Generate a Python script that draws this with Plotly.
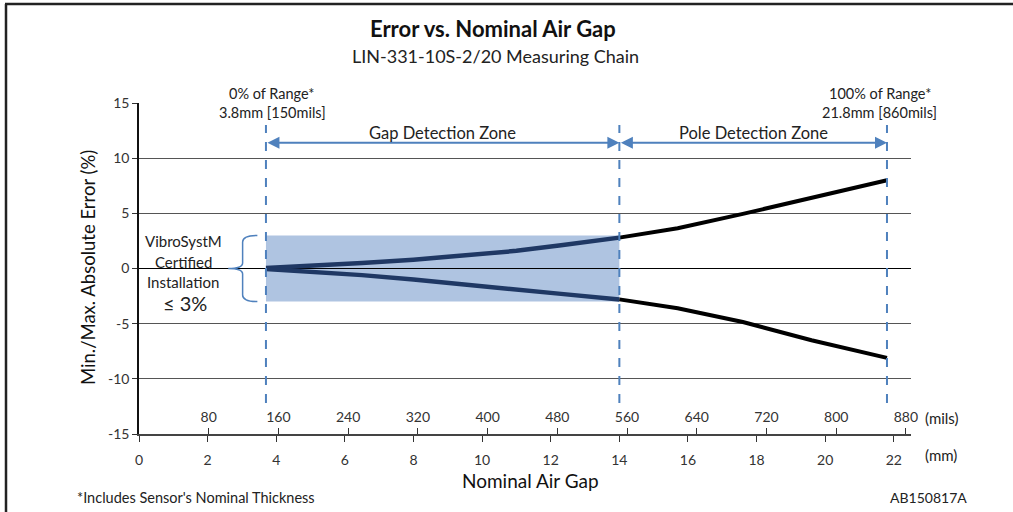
import plotly.graph_objects as go

# ---- data ----
gap_x = [3.7, 4.8, 6.5, 8.0, 9.4, 11.0, 12.3, 14.0]
gap_upper = [0.05, 0.2, 0.5, 0.8, 1.15, 1.6, 2.1, 2.8]
gap_lower = [-0.05, -0.25, -0.6, -1.0, -1.45, -1.9, -2.3, -2.8]

pole_x = [14.0, 15.7, 17.6, 19.6, 21.8]
pole_upper = [2.8, 3.65, 4.95, 6.4, 8.0]
pole_lower = [-2.8, -3.6, -4.85, -6.5, -8.1]

zone_edges = [3.7, 14.0, 21.8]          # mm: 0% range, gap/pole boundary, 100% range
certified_band = 3.0                    # +/- %

mm_ticks = list(range(0, 23, 2))
mils_ticks = list(range(80, 881, 80))
y_ticks = [-15, -10, -5, 0, 5, 10, 15]
y_labels = [str(v) for v in y_ticks]

X_MAX_MM = 22.5
MM_TO_MILS = 39.37

FONT = "Lato"
BLUE = "#4f81bd"
NAVY = "#1f3864"

fig = go.Figure()

# certified band
fig.add_shape(type="rect", xref="x", yref="y", x0=zone_edges[0], x1=zone_edges[1],
              y0=-certified_band, y1=certified_band, fillcolor="#afc4e1",
              line=dict(width=0), layer="below")

for ys in (gap_upper, gap_lower):
    fig.add_trace(go.Scatter(x=gap_x, y=ys, mode="lines", line=dict(color=NAVY, width=4.5),
                             hoverinfo="skip", showlegend=False))
for ys in (pole_upper, pole_lower):
    fig.add_trace(go.Scatter(x=pole_x, y=ys, mode="lines", line=dict(color="black", width=4),
                             hoverinfo="skip", showlegend=False))

# secondary (mils) axis trace - invisible
fig.add_trace(go.Scatter(x=[0], y=[0], xaxis="x2", mode="markers", marker=dict(opacity=0),
                         hoverinfo="skip", showlegend=False))

# dashed vertical lines
for xe in zone_edges:
    fig.add_shape(type="line", xref="x", yref="y", x0=xe, x1=xe, y0=-12.2, y1=13.0,
                  line=dict(color=BLUE, width=2, dash="dash"))

# zone arrows
for a, b in ((zone_edges[0], zone_edges[1]), (zone_edges[1], zone_edges[2])):
    fig.add_annotation(x=b, y=11.4, ax=a, ay=11.4, xref="x", yref="y", axref="x", ayref="y",
                       showarrow=True, arrowhead=2, startarrowhead=2, arrowside="end+start",
                       arrowsize=1.2, arrowwidth=2, arrowcolor=BLUE, text="")

fig.add_annotation(x=(zone_edges[0] + zone_edges[1]) / 2, y=12.3, xref="x", yref="y",
                   text="Gap Detection Zone", showarrow=False,
                   font=dict(family=FONT, size=16.5, color="#222"))
fig.add_annotation(x=(zone_edges[1] + zone_edges[2]) / 2, y=12.3, xref="x", yref="y",
                   text="Pole Detection Zone", showarrow=False,
                   font=dict(family=FONT, size=16.5, color="#222"))

# brace
fig.add_shape(type="path", xref="x", yref="y",
              path="M 3.45,3 Q 3.02,3 3.02,2.4 L 3.02,0.5 Q 3.02,0 2.6,0 "
                   "Q 3.02,0 3.02,-0.5 L 3.02,-2.4 Q 3.02,-3 3.45,-3",
              line=dict(color=BLUE, width=1.5))

# pixel -> paper helpers
L, R, T, B = 139, 911, 103, 434
W, H = 1013, 512
def px(x):
    return (x - L) / (R - L)
def py(y):
    return (B - y) / (B - T)

def txt(x, y, s, size=13, color="#222", bold=False, xanchor="center", angle=0):
    fig.add_annotation(x=px(x), y=py(y), xref="paper", yref="paper", text=("<b>%s</b>" % s) if bold else s,
                       showarrow=False, xanchor=xanchor, yanchor="middle", textangle=angle,
                       font=dict(family=FONT, size=size, color=color))

txt(183, 241, "VibroSystM", size=15)
txt(183, 262, "Certified", size=15)
txt(183, 282, "Installation", size=15)
txt(185, 303, "≤ 3%", size=20)

txt(493, 28, "Error vs. Nominal Air Gap", size=22, bold=True, color="#111")
txt(495, 56, "LIN-331-10S-2/20 Measuring Chain", size=18, color="#222")
txt(272, 93, "0% of Range*", size=14.5)
txt(272, 113, "3.8mm [150mils]", size=14.5)
txt(880, 93, "100% of Range*", size=14.5)
txt(879, 113, "21.8mm [860mils]", size=14.5)
txt(88, 268, "Min./Max. Absolute Error (%)", size=18.5, color="#111", angle=-90)
txt(530, 480, "Nominal Air Gap", size=19, color="#111")
txt(923, 418, "(mils)", size=15, xanchor="left")
txt(923, 455, "(mm)", size=15, xanchor="left")
txt(75, 497, "*Includes Sensor's Nominal Thickness", size=14.5, xanchor="left")
txt(888, 497, "AB150817A", size=14, xanchor="left")

# outer frame
fig.add_shape(type="line", xref="paper", yref="paper", x0=px(5), x1=px(1013), y0=py(4), y1=py(4),
              line=dict(color="#222", width=2.5))
fig.add_shape(type="line", xref="paper", yref="paper", x0=px(6), x1=px(6), y0=py(4), y1=py(512),
              line=dict(color="#222", width=2.5))

fig.update_layout(
    width=W, height=H,
    margin=dict(l=L, r=W - R, t=T, b=H - B),
    paper_bgcolor="white", plot_bgcolor="white",
    font=dict(family=FONT, size=13, color="#333"),
    xaxis=dict(range=[0, X_MAX_MM], tickvals=mm_ticks, ticks="outside", ticklen=6,
               tickcolor="#333", showline=True, linecolor="#444", linewidth=1.5,
               showgrid=False, zeroline=False, ticklabelstandoff=6,
               tickfont=dict(family=FONT, size=14, color="#333")),
    xaxis2=dict(range=[0, X_MAX_MM * MM_TO_MILS], tickvals=mils_ticks, overlaying="x",
                side="top", anchor="free", position=0, ticks="outside", ticklen=6,
                tickcolor="#333", showline=False, showgrid=False, zeroline=False,
                tickfont=dict(family=FONT, size=14, color="#333")),
    yaxis=dict(range=[-15, 15], tickvals=y_ticks, ticktext=y_labels, ticks="outside", ticklen=5,
               tickcolor="#333", showline=True, linecolor="#111", linewidth=1.5, showgrid=True,
               gridcolor="#555", gridwidth=1, zeroline=True, zerolinecolor="#000",
               zerolinewidth=1.2, tickfont=dict(family=FONT, size=14, color="#333")),
)

fig.write_html("out.html", config={"displayModeBar": False},
               post_script="document.body.style.margin='0';")
